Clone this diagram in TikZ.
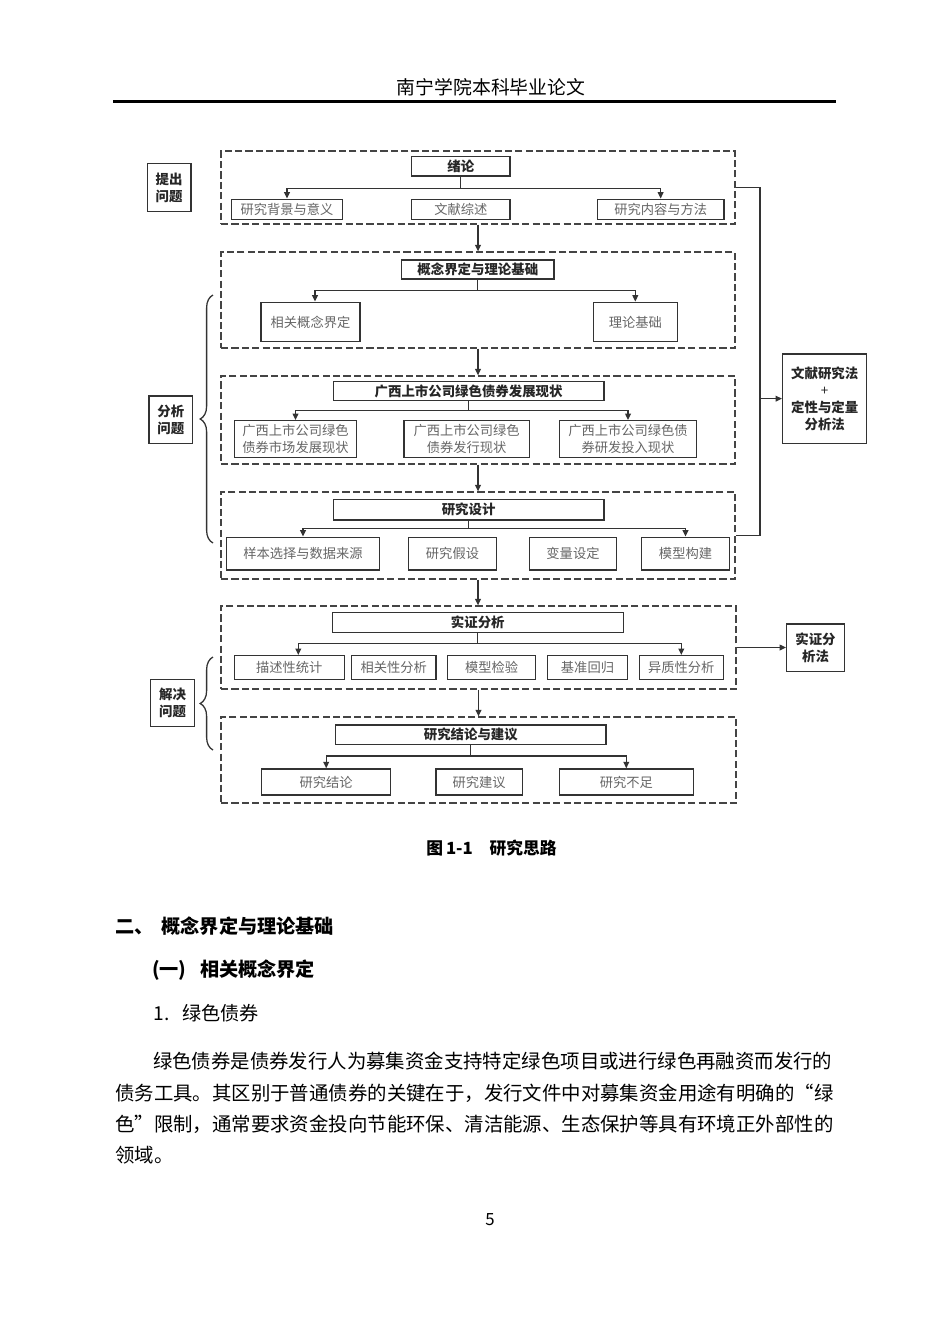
\documentclass[tikz,border=0pt]{standalone}
\usepackage{fontspec}
\setmainfont{Noto Sans CJK SC}
\usetikzlibrary{arrows.meta,decorations.pathreplacing,calc}
\definecolor{linec}{HTML}{333333}
\definecolor{txtg}{HTML}{666666}
\definecolor{dashc}{HTML}{444444}
\tikzset{
 box/.style={draw=linec, line width=0.9pt, fill=white, inner sep=0pt, text=txtg, font=\fontsize{8.3}{11}\selectfont, align=center},
 tbox/.style={box, text=black!85, font=\fontsize{8.4}{10.5}\selectfont\bfseries},
 lbl/.style={box, text=black!85, font=\fontsize{8.4}{10.6}\selectfont\bfseries},
 grp/.style={draw=dashc, line width=0.8pt, dash pattern=on 4.5pt off 2pt, inner sep=0pt},
 arr/.style={draw=linec, line width=0.8pt, -{Triangle[length=4pt,width=3.6pt]}},
 dbl/.style={draw=linec, line width=0.8pt, {Triangle[length=4pt,width=3.6pt]}-{Triangle[length=4pt,width=3.6pt]}},
 ln/.style={draw=linec, line width=0.8pt},
 brc/.style={draw=linec, line width=0.8pt, decorate, decoration={brace, amplitude=8pt}},
 txt/.style={inner sep=0pt, anchor=west, font=\fontsize{12.15}{14}\selectfont},
 hd/.style={inner sep=0pt, anchor=west, font=\fontsize{12}{14}\selectfont\bfseries},
}
\newcommand\mybox[7][]{\node[#1,minimum width={(#5-#3)*0.626pt},minimum height={(#6-#4)*0.626pt}] (#2) at ({(#3+#5)/2},{(#4+#6)/2}) {#7};}
\begin{document}
\begin{tikzpicture}[x=0.626pt,y=-0.626pt]
\useasboundingbox (0,0) rectangle (950,1344);
% header
\node[inner sep=0pt, font=\fontsize{11.8}{12}\selectfont] (hdr) at (491,87) {南宁学院本科毕业论文};
\draw[line width=1.3pt] (113,101.5) -- (836,101.5);
% groups
\mybox[grp]{g1}{221}{151}{735}{224}{}
\mybox[grp]{g2}{221}{252}{735}{348}{}
\mybox[grp]{g3}{221}{376}{735}{464}{}
\mybox[grp]{g4}{221}{492}{735}{579}{}
\mybox[grp]{g5}{221}{606}{736}{689}{}
\mybox[grp]{g6}{221}{717}{736}{803}{}
% titles
\mybox[tbox]{t1}{411.7}{156.7}{510}{176}{绪论}
\mybox[tbox]{t2}{401.7}{260}{554}{279}{概念界定与理论基础}
\mybox[tbox]{t3}{333.3}{381.7}{604}{400.7}{广西上市公司绿色债券发展现状}
\mybox[tbox]{t4}{333.3}{499.3}{604}{520}{研究设计}
\mybox[tbox]{t5}{332.3}{612.7}{623.3}{632.3}{实证分析}
\mybox[tbox]{t6}{335.7}{725}{606}{744.3}{研究结论与建议}
% children
\mybox[box]{c11}{231.7}{199.3}{342.3}{219.3}{研究背景与意义}
\mybox[box]{c12}{411.7}{199.3}{510}{219.3}{文献综述}
\mybox[box]{c13}{597.3}{199.3}{724}{219.3}{研究内容与方法}
\mybox[box]{c21}{261}{302.3}{360}{341.7}{相关概念界定}
\mybox[box]{c22}{593.3}{302.3}{677.3}{341.7}{理论基础}
\mybox[box]{c31}{234.3}{420.7}{356.7}{457.3}{广西上市公司绿色\\债券市场发展现状}
\mybox[box]{c32}{404}{420.7}{529.3}{457.3}{广西上市公司绿色\\债券发行现状}
\mybox[box]{c33}{559.3}{420.7}{696.7}{457.3}{广西上市公司绿色债\\券研发投入现状}
\mybox[box]{c41}{226.7}{537.3}{379.3}{570}{样本选择与数据来源}
\mybox[box]{c42}{408.3}{537.3}{496.7}{570}{研究假设}
\mybox[box]{c43}{529.3}{537.3}{616.7}{570}{变量设定}
\mybox[box]{c44}{641.7}{537.3}{729.3}{570}{模型构建}
\mybox[box]{c51}{234.3}{655.7}{344.3}{679.3}{描述性统计}
\mybox[box]{c52}{351.7}{655.7}{436}{679.3}{相关性分析}
\mybox[box]{c53}{447.7}{655.7}{535.7}{679.3}{模型检验}
\mybox[box]{c54}{547.7}{655.7}{627.3}{679.3}{基准回归}
\mybox[box]{c55}{639.3}{655.7}{723.3}{679.3}{异质性分析}
\mybox[box]{c61}{261.7}{769}{390.7}{795}{研究结论}
\mybox[box]{c62}{436}{769}{522.3}{795}{研究建议}
\mybox[box]{c63}{559.3}{769}{693.3}{795}{研究不足}
% side labels
\mybox[lbl]{l1}{147.3}{163.3}{191}{211.7}{提出\\问题}
\mybox[lbl]{l2}{149}{396}{192.7}{443.3}{分析\\问题}
\mybox[lbl]{l3}{150.7}{679.3}{194.3}{726.7}{解决\\问题}
\mybox[lbl]{m1}{782.7}{354}{866.7}{443.3}{文献研究法\\{\mdseries+}\\定性与定量\\分析法}
\mybox[lbl]{m2}{786.7}{624}{844.3}{671.7}{实证分\\析法}
% bars inside groups
\coordinate (b1) at (0,188.3);
\coordinate (b2) at (0,290.7);
\coordinate (b3) at (0,410.7);
\coordinate (b4) at (0,528.3);
\coordinate (b5) at (0,643.3);
\coordinate (b6) at (0,756);
\draw[ln] (t1.south) -- (t1.south |- b1);
\draw[dbl] (c11.north) -- (c11.north |- b1) -- (c13.north |- b1) -- (c13.north);
\draw[ln] (t2.south) -- (t2.south |- b2);
\draw[dbl] ($(c21.north)+(4.5,0)$) -- ($(c21.north |- b2)+(4.5,0)$) -- (c22.north |- b2) -- (c22.north);
\draw[ln] (t3.south) -- (t3.south |- b3);
\draw[dbl] (c31.north) -- (c31.north |- b3) -- (c33.north |- b3) -- (c33.north);
\draw[ln] (t4.south) -- (t4.south |- b4);
\draw[dbl] (c41.north) -- (c41.north |- b4) -- (c44.north |- b4) -- (c44.north);
\draw[ln] (t5.south) -- (t5.south |- b5);
\draw[dbl] ($(c51.north)+(9,0)$) -- ($(c51.north |- b5)+(9,0)$) -- (c55.north |- b5) -- (c55.north);
\draw[ln] (t6.south) -- (t6.south |- b6);
\draw[dbl] (c61.north) -- (c61.north |- b6) -- (c63.north |- b6) -- (c63.north);
% between groups
\draw[arr] (g1.south) -- (g2.north);
\draw[arr] (g2.south) -- (g3.north);
\draw[arr] (g3.south) -- (g4.north);
\draw[arr] (g4.south) -- (g4.south |- g5.north);
\draw[arr] (g5.south) -- (g6.north);
% right side
\coordinate (rx) at (760,0);
\draw[ln] (g1.east) -- (g1.east -| rx) -- (g4.east -| rx) -- (g4.east);
\draw[arr] (m1.west -| rx) -- (m1.west);
\draw[arr] (g5.east) -- (g5.east -| m2.west);
% braces
\coordinate (br1a) at (213,543);
\coordinate (br1b) at (213,295);
\coordinate (br2a) at (213,750);
\coordinate (br2b) at (213,657);
\draw[brc] (br1a) -- (br1b);
\draw[brc] (br2a) -- (br2b);
% caption and text
\node[inner sep=0pt, font=\fontsize{10.5}{12}\selectfont\bfseries] (cap) at (491.6,848) {图\,1-1\quad 研究思路};
\node[hd] (h2) at (115,926) {二、\hspace{5pt}概念界定与理论基础};
\node[hd] (h3) at (151.7,970) {(一)\hspace{8.5pt}相关概念界定};
\node[txt, font=\fontsize{12}{14}\selectfont] (h4) at (153.3,1013) {1.\hspace{8pt}绿色债券};
\node[txt] (p1) at (152.7,1061) {绿色债券是债券发行人为募集资金支持特定绿色项目或进行绿色再融资而发行的};
\node[txt] (p2) at (115,1093) {债务工具。其区别于普通债券的关键在于，发行文件中对募集资金用途有明确的\makebox[1em][r]{“}绿};
\node[txt] (p3) at (115,1124) {色\makebox[1em][l]{”}限制，通常要求资金投向节能环保、清洁能源、生态保护等具有环境正外部性的};
\node[txt] (p4) at (115,1155) {领域。};
\node[inner sep=0pt, font=\fontsize{10.5}{12}\selectfont] (pg) at (490,1220) {5};
\end{tikzpicture}
\end{document}
